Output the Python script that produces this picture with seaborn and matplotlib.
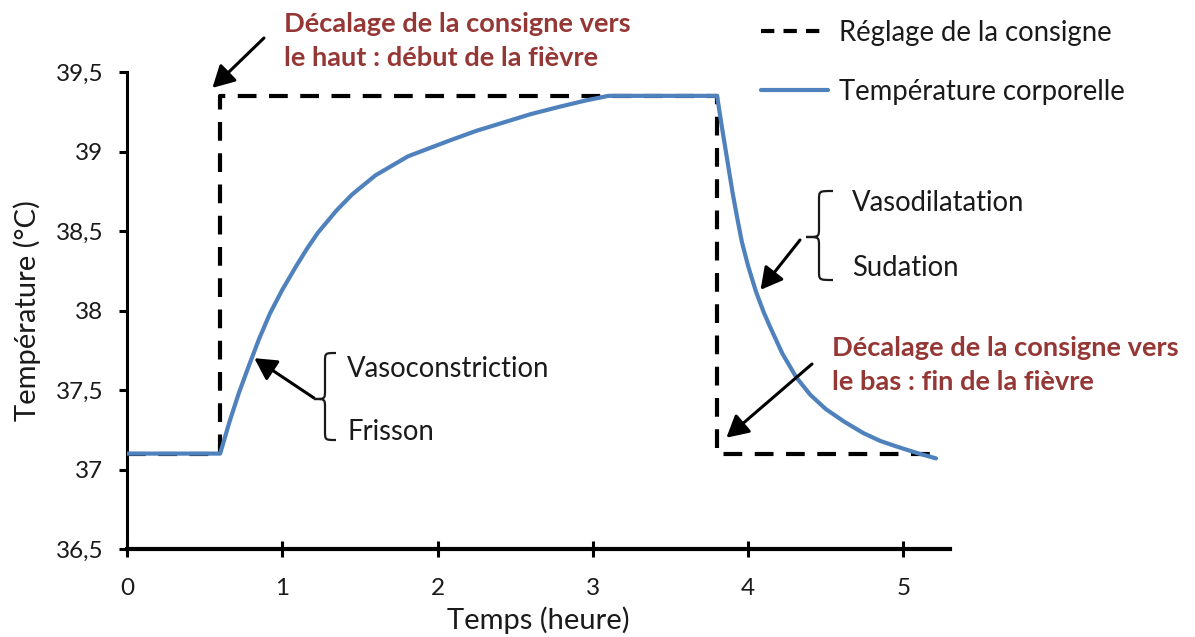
import matplotlib
matplotlib.use("Agg")
import matplotlib.pyplot as plt
import matplotlib.transforms as mtransforms
from matplotlib.path import Path
from matplotlib.patches import PathPatch
from matplotlib.lines import Line2D
import seaborn as sns

# Set point of the thermostat (dashed step)
consigne_t = [0.0, 0.6, 0.6, 3.8, 3.8, 5.18]
consigne_temp = [37.1, 37.1, 39.35, 39.35, 37.1, 37.1]

# Body temperature (solid curve)
corps_t = [0.0, 0.6, 0.66, 0.72, 0.78, 0.85, 0.92, 1.0, 1.09, 1.16, 1.23, 1.35, 1.45,
           1.6, 1.81, 2.08, 2.25, 2.45, 2.6, 2.78, 2.95, 3.1,
           3.8, 3.83, 3.86, 3.9, 3.93, 3.96, 4.0, 4.05, 4.1, 4.14, 4.22, 4.31, 4.4, 4.5,
           4.62, 4.74, 4.85, 4.97, 5.1, 5.21]
corps_temp = [37.1, 37.1, 37.30, 37.48, 37.64, 37.82, 37.98, 38.13, 38.28, 38.39, 38.49, 38.63, 38.73,
              38.85, 38.97, 39.07, 39.13, 39.19, 39.235, 39.28, 39.32, 39.35,
              39.35, 39.16, 38.98, 38.74, 38.58, 38.43, 38.28, 38.12, 37.99, 37.9, 37.73, 37.58,
              37.47, 37.38, 37.30, 37.23, 37.18, 37.14, 37.10, 37.07]

y_ticks = [36.5, 37, 37.5, 38, 38.5, 39, 39.5]
y_tick_labels = ["36,5", "37", "37,5", "38", "38,5", "39", "39,5"]
x_ticks = [0, 1, 2, 3, 4, 5]

serie_labels = ["Réglage de la consigne", "Température corporelle"]

BLUE = "#4F81BD"
RED = "#953735"
INK = "#1a1a1a"

sns.set_theme(style="white")
plt.rcParams["font.family"] = ["Lato", "DejaVu Sans"]

W, H = 1195, 637
fig = plt.figure(figsize=(W / 100, H / 100), dpi=100)
ax = fig.add_axes([127 / W, 1 - 549 / H, 823 / W, 477 / H])

# image-pixel coordinates (origin top-left) -> display
img = mtransforms.Affine2D().scale(1, -1).translate(0, H)

sns.lineplot(x=consigne_t, y=consigne_temp, ax=ax, sort=False, estimator=None,
             color="black", lw=3.0, dashes=False, zorder=2)
ax.lines[-1].set_dashes((4.5, 3.0))
sns.lineplot(x=corps_t, y=corps_temp, ax=ax, sort=False, estimator=None,
             color=BLUE, lw=3.0, zorder=3)
ax.lines[-1].set_solid_joinstyle("round")

ax.set_xlim(0, 5.3)
ax.set_ylim(36.5, 39.5)
ax.set_xticks(x_ticks)
ax.set_yticks(y_ticks)
ax.set_yticklabels(y_tick_labels)

for side in ("top", "right"):
    ax.spines[side].set_visible(False)
ax.spines["left"].set_linewidth(2.2)
ax.spines["bottom"].set_linewidth(3.0)
for s in ("left", "bottom"):
    ax.spines[s].set_color("black")

ax.tick_params(axis="y", direction="out", length=6, width=2.2, color="black",
               labelsize=17.5, labelcolor=INK, pad=11, left=True)
ax.tick_params(axis="x", direction="inout", length=12, width=2.2, color="black",
               labelsize=17.5, labelcolor=INK, pad=15, bottom=True)

ax.set_xlabel("Temps (heure)", fontsize=21, color=INK)
ax.set_ylabel("Température (°C)", fontsize=21, color=INK)
ax.xaxis.set_label_coords(0.5, -0.12)
ax.yaxis.set_label_coords(-0.105, 0.5)

# Legend
handles = [Line2D([], [], color="black", lw=3.0, dashes=(3.2, 2.2)),
           Line2D([], [], color=BLUE, lw=3.0)]
leg = fig.legend(handles, serie_labels, loc="upper left",
                 bbox_to_anchor=(747 / W, 1 - 6 / H), frameon=False,
                 fontsize=19.8, handlelength=2.45, handletextpad=0.4,
                 labelspacing=1.2, borderpad=0)
for t in leg.get_texts():
    t.set_color(INK)


def brace(x_end, x_mid, x_tip, y_top, y_tip, y_bot, r=9):
    verts = [(x_end, y_top),
             (x_mid, y_top), (x_mid, y_top), (x_mid, y_top + r),
             (x_mid, y_tip - r),
             (x_mid, y_tip), (x_mid, y_tip), (x_tip, y_tip),
             (x_mid, y_tip), (x_mid, y_tip), (x_mid, y_tip + r),
             (x_mid, y_bot - r),
             (x_mid, y_bot), (x_mid, y_bot), (x_end, y_bot)]
    codes = [Path.MOVETO,
             Path.CURVE4, Path.CURVE4, Path.CURVE4,
             Path.LINETO,
             Path.CURVE4, Path.CURVE4, Path.CURVE4,
             Path.CURVE4, Path.CURVE4, Path.CURVE4,
             Path.LINETO,
             Path.CURVE4, Path.CURVE4, Path.CURVE4]
    patch = PathPatch(Path(verts, codes), transform=img, fill=False,
                      edgecolor=INK, lw=1.6, clip_on=False)
    fig.add_artist(patch)


brace(336, 325, 314, 353, 399, 440)
brace(833, 819, 806, 191, 237, 280)

txt = dict(transform=img, fontsize=19.8, color=INK, va="center", ha="left")
fig.text(347, 369, "Vasoconstriction", **txt)
fig.text(347, 432, "Frisson", **txt)
fig.text(852, 203, "Vasodilatation", **txt)
fig.text(852, 268, "Sudation", **txt)

red = dict(transform=img, fontsize=19.6, color=RED, fontweight="bold",
           va="center", ha="left", linespacing=1.45)
fig.text(284, 41, "Décalage de la consigne vers\nle haut : début de la fièvre", **red)
fig.text(832, 365, "Décalage de la consigne vers\nle bas : fin de la fièvre", **red)

arrow = dict(arrowstyle="-|>,head_length=0.55,head_width=0.3", color="black",
             lw=2.2, mutation_scale=24, shrinkA=0, shrinkB=0)
ax.annotate("", xy=(0.55, 39.40), xycoords="data", xytext=(264, 38),
            textcoords=img, arrowprops=arrow, annotation_clip=False)
ax.annotate("", xy=(0.82, 37.70), xycoords="data", xytext=(314, 398),
            textcoords=img, arrowprops=arrow, annotation_clip=False)
ax.annotate("", xy=(4.08, 38.13), xycoords="data", xytext=(800, 240),
            textcoords=img, arrowprops=arrow, annotation_clip=False)
ax.annotate("", xy=(3.86, 37.20), xycoords="data", xytext=(812, 364),
            textcoords=img, arrowprops=arrow, annotation_clip=False)

fig.savefig("out.png", dpi=100, facecolor="white")
